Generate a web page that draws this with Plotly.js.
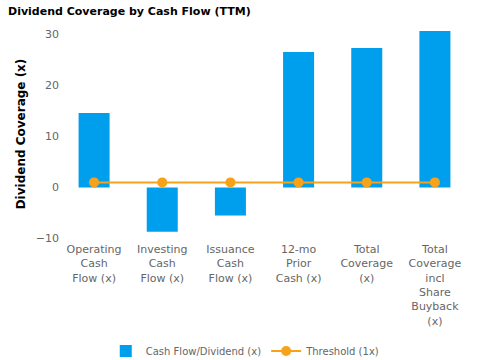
<!DOCTYPE html>
<html>
<head>
<meta charset="utf-8">
<script src="https://cdn.plot.ly/plotly-3.0.1.min.js"></script>
<style>html,body{margin:0;padding:0;background:#fff;}#chart{width:480px;height:360px;}</style>
</head>
<body>
<div id="chart"></div>
<script>
const categories = [
  "Operating<br>Cash<br>Flow (x)",
  "Investing<br>Cash<br>Flow (x)",
  "Issuance<br>Cash<br>Flow (x)",
  "12-mo<br>Prior<br>Cash (x)",
  "Total<br>Coverage<br>(x)",
  "Total<br>Coverage<br>incl<br>Share<br>Buyback<br>(x)"
];
const coverageValues = [14.6, -8.7, -5.5, 26.6, 27.4, 30.7];
const thresholdValues = [1, 1, 1, 1, 1, 1];
const yTickValues = [-10, 0, 10, 20, 30];

const font = "DejaVu Sans, Verdana, sans-serif";
const grey = "#666666";

const traces = [
  {
    type: "bar",
    name: "Cash Flow/Dividend (x)",
    x: categories,
    y: coverageValues,
    marker: {color: "#009fee"},
    hoverinfo: "y"
  },
  {
    type: "scatter",
    mode: "lines+markers",
    name: "Threshold (1x)",
    x: categories,
    y: thresholdValues,
    line: {color: "#f7a21b", width: 2},
    marker: {color: "#f7a21b", size: 10}
  }
];

const layout = {
  width: 480,
  height: 360,
  paper_bgcolor: "#ffffff",
  plot_bgcolor: "#ffffff",
  margin: {l: 60, r: 11, t: 27, b: 119},
  title: {
    text: "Dividend Coverage by Cash Flow (TTM)",
    x: 8 / 480, xanchor: "left", xref: "container",
    y: 0.969, yanchor: "middle", yref: "container",
    font: {family: font, size: 11, color: "#000000", weight: "bold"}
  },
  bargap: 0.545,
  showlegend: true,
  legend: {
    orientation: "h",
    x: 0.512, xanchor: "center", xref: "container",
    y: 0.025, yanchor: "middle", yref: "container",
    font: {family: font, size: 10, color: grey},
    tracegroupgap: 0
  },
  xaxis: {
    type: "category",
    showgrid: false,
    zeroline: false,
    showline: false,
    ticks: "",
    tickangle: 0,
    tickfont: {family: font, size: 11, color: grey}
  },
  yaxis: {
    range: [-10.5, 31.5],
    tickvals: yTickValues,
    showgrid: false,
    zeroline: false,
    showline: false,
    ticks: "",
    tickfont: {family: font, size: 11, color: grey},
    title: {
      text: "Dividend Coverage (x)",
      standoff: 7,
      font: {family: font, size: 12, color: "#000000", weight: "bold"}
    }
  }
};

Plotly.newPlot("chart", traces, layout, {displayModeBar: false, responsive: false});
</script>
</body>
</html>
